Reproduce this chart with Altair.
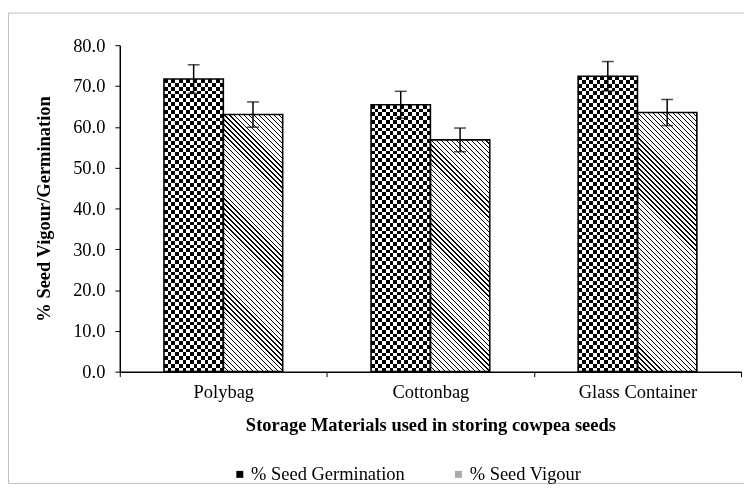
import altair as alt
import pandas as pd

# ---------------- data ----------------
categories = ["Polybag", "Cottonbag", "Glass Container"]
series = ["% Seed Germination", "% Seed Vigour"]
germination = [71.7, 65.4, 72.4]
germination_err = [3.5, 3.3, 3.6]
vigour = [63.0, 56.8, 63.5]
vigour_err = [3.1, 2.9, 3.2]
y_ticks = [0, 10, 20, 30, 40, 50, 60, 70, 80]

rows = []
for c, g, ge, v, ve in zip(categories, germination, germination_err, vigour, vigour_err):
    rows.append({"cat": c, "series": series[0], "value": g, "err": ge})
    rows.append({"cat": c, "series": series[1], "value": v, "err": ve})
df = pd.DataFrame(rows)

# ---------------- geometry / style ----------------
W, H = 628, 330
PX = H / 80.0
BAR_W = 60.0
STEP = W / 3
OFF_PAD = (STEP / BAR_W - 2) / 2
FONT = "Liberation Serif"
FS = 18.67
CELL = 7.7


def stops(n, c1, c2, duty):
    out = []
    for k in range(n):
        a = round(k / n, 6)
        b = round((k + duty) / n, 6)
        e = round((k + 1) / n, 6)
        out += [{"offset": a, "color": c1}, {"offset": b, "color": c1},
                {"offset": b, "color": c2}, {"offset": e, "color": c2}]
    return out


x_scale = alt.Scale(domain=categories, paddingInner=0, paddingOuter=0)
off_scale = alt.Scale(domain=series, paddingInner=0, paddingOuter=OFF_PAD)
y_scale = alt.Scale(domain=[0, 80], nice=False)

x_axis = alt.Axis(title="Storage Materials used in storing cowpea seeds", titleFont=FONT,
                  titleFontSize=FS, titleFontWeight="bold", titleColor="black",
                  titlePadding=15, labelFont=FONT, labelFontSize=FS, labelColor="black",
                  labelAngle=0, labelPadding=6, tickBand="extent", tickSize=5,
                  tickColor="black", tickWidth=1, domainColor="black", domainWidth=1.5)
y_axis = alt.Axis(title="% Seed Vigour/Germination", titleFont=FONT, titleFontSize=FS,
                  titleFontWeight="bold", titleColor="black", titlePadding=19,
                  labelFont=FONT, labelFontSize=FS, labelColor="black", labelPadding=10,
                  values=y_ticks, format=".1f", tickSize=5, tickColor="black", tickWidth=1,
                  domainColor="black", domainWidth=1.5, grid=False)

X = alt.X("cat:N", scale=x_scale, axis=x_axis)
XO = alt.XOffset("series:N", scale=off_scale)
Y = alt.Y("value:Q", scale=y_scale, axis=y_axis)

base = alt.Chart(df)
layers = []

# outer frame
frame = alt.Chart(pd.DataFrame({"a": [0]})).mark_rect(
    fillOpacity=0, stroke="#bfbfbf", strokeWidth=1
).encode(x=alt.value(-112.5), x2=alt.value(720), y=alt.value(-32.5), y2=alt.value(443))
layers.append(frame)

for c, g, v in zip(categories, germination, vigour):
    # checkerboard: vertical stripes + horizontal stripes blended with "difference"
    vert = {"gradient": "linear", "x1": 0, "y1": 0, "x2": 1, "y2": 0,
            "stops": stops(8, "black", "white", 0.5)}
    nrows = max(2, round(g * PX / CELL))
    horiz = {"gradient": "linear", "x1": 0, "y1": 1, "x2": 0, "y2": 0,
             "stops": stops(nrows, "white", "rgba(255,255,255,0)", 0.5)}
    sel_g = f"datum.cat == '{c}' && datum.series == '{series[0]}'"
    layers.append(base.transform_filter(sel_g).mark_bar(fill=vert, strokeWidth=0)
                  .encode(x=X, xOffset=XO, y=Y))
    layers.append(base.transform_filter(sel_g).mark_bar(fill=horiz, strokeWidth=0, blend="difference")
                  .encode(x=X, xOffset=XO, y=Y))
    # diagonal hatch for vigour
    h = v * PX
    r = h / BAR_W
    s = (1 + r) / (1 + r * r)
    n = max(2, round((BAR_W + h) / 5.0))
    hatch = {"gradient": "linear", "x1": 0, "y1": 1, "x2": round(s, 6), "y2": round(1 - s * r, 6),
             "stops": stops(n, "black", "white", 0.26)}
    sel_v = f"datum.cat == '{c}' && datum.series == '{series[1]}'"
    layers.append(base.transform_filter(sel_v).mark_bar(fill=hatch, strokeWidth=0)
                  .encode(x=X, xOffset=XO, y=Y))

# bar outlines
layers.append(base.mark_bar(fillOpacity=0, stroke="black", strokeWidth=1.6)
              .encode(x=X, xOffset=XO, y=Y))

err = base.transform_calculate(lo="datum.value - datum.err", hi="datum.value + datum.err")
layers.append(err.mark_rule(color="black", strokeWidth=1.5).encode(
    x=X, xOffset=XO, y=alt.Y("lo:Q", scale=y_scale, axis=y_axis), y2="hi:Q"))
layers.append(err.mark_tick(color="black", thickness=1.5, size=12).encode(
    x=X, xOffset=XO, y=alt.Y("lo:Q", scale=y_scale, axis=y_axis)))
layers.append(err.mark_tick(color="black", thickness=1.5, size=12).encode(
    x=X, xOffset=XO, y=alt.Y("hi:Q", scale=y_scale, axis=y_axis)))

# legend carrier
layers.append(base.mark_square(opacity=0).encode(
    x=X, xOffset=XO, y=Y,
    fill=alt.Fill("series:N", scale=alt.Scale(domain=series, range=["black", "#aaaaaa"]),
                  legend=alt.Legend(orient="none", legendX=112, legendY=424,
                                    direction="horizontal", title=None, labelFont=FONT,
                                    labelFontSize=FS, labelColor="black", symbolType="square",
                                    symbolSize=50, symbolOpacity=1, symbolStrokeWidth=0,
                                    labelOffset=2, columnPadding=44))))

chart = alt.layer(*layers).properties(
    width=W, height=H,
    autosize=alt.AutoSizeParams(type="none"),
    padding={"left": 113, "top": 35, "right": 3, "bottom": 115},
    background="white",
).configure_view(stroke="transparent")

chart.save("out.html", embed_options={"renderer": "svg", "actions": False})
